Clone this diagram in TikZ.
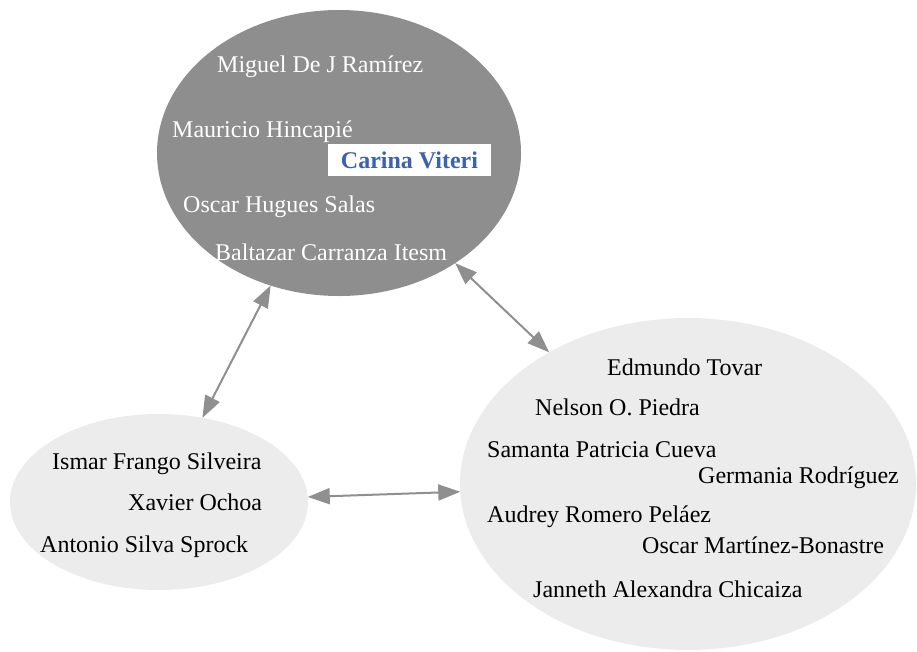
\documentclass[tikz,border=0pt]{standalone}
\usepackage{fontspec}
\setmainfont{Liberation Serif}
\usetikzlibrary{shapes.geometric,arrows.meta}
\definecolor{darkgroup}{HTML}{8E8E8E}
\definecolor{lightgroup}{HTML}{ECECEC}
\definecolor{linkgray}{HTML}{8F8F8F}
\definecolor{leadblue}{HTML}{3A62B0}
\tikzset{
  group/.style={ellipse,inner sep=0pt,outer sep=0pt},
  member/.style={anchor=base west,inner sep=0pt,font=\fontsize{24}{28}\selectfont},
  lead/.style={fill=white,inner sep=0pt,minimum width=163pt,minimum height=32pt,
    text=leadblue,font=\bfseries\fontsize{24}{28}\selectfont},
  link/.style={{Triangle[length=22pt,width=16pt]}-{Triangle[length=22pt,width=16pt]},
    linkgray,line width=2pt}
}
\begin{document}
\begin{tikzpicture}[x=1pt,y=-1pt]
      \useasboundingbox (0,0) rectangle (917,651);
      \draw
        (339,153) node[group,fill=darkgroup,minimum width=364pt,minimum height=286pt] (0){}
        (159,502) node[group,fill=lightgroup,minimum width=298pt,minimum height=176pt] (1){}
        (688,484) node[group,fill=lightgroup,minimum width=456pt,minimum height=332pt] (2){};
      \draw
        (217,72) node[member,white] (a1){Miguel De J Ramírez}
        (172,137) node[member,white] (a2){Mauricio Hincapié}
        (409.5,160) node[lead] (a3){Carina Viteri}
        (183,212) node[member,white] (a4){Oscar Hugues Salas}
        (215,260) node[member,white] (a5){Baltazar Carranza Itesm};
      \draw
        (52,469) node[member] (b1){Ismar Frango Silveira}
        (128,510) node[member] (b2){Xavier Ochoa}
        (40,552) node[member] (b3){Antonio Silva Sprock};
      \draw
        (607,375) node[member] (c1){Edmundo Tovar}
        (535,415) node[member] (c2){Nelson O. Piedra}
        (487,457) node[member] (c3){Samanta Patricia Cueva}
        (698,483) node[member] (c4){Germania Rodríguez}
        (487,522) node[member] (c5){Audrey Romero Peláez}
        (642,553) node[member] (c6){Oscar Martínez-Bonastre}
        (533,597) node[member] (c7){Janneth Alexandra Chicaiza};
      \begin{scope}[link]
        \draw (0) to (1);
        \draw (0) to (2);
        \draw (1) to (2);
      \end{scope}
    \end{tikzpicture}
\end{document}
